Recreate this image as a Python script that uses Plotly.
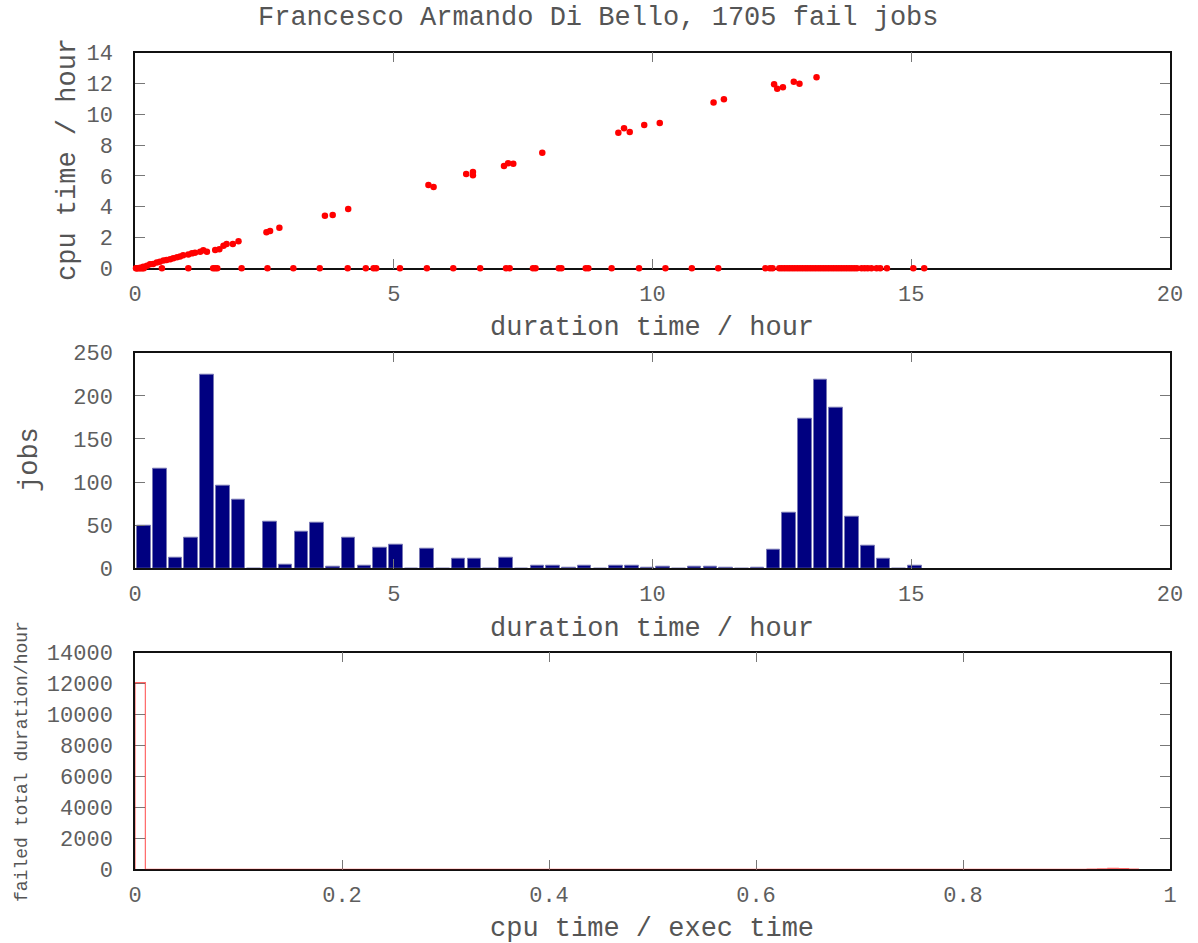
import numpy as np
import plotly.graph_objects as go

W, H = 1198, 943

# ---------------- data: top scatter (duration vs cpu time, hours) ----------------
zero_cpu_duration = [0.02, 0.05, 0.08, 0.11, 0.14, 0.17, 0.52, 1.03, 1.51, 1.55, 1.59,
                     2.06, 2.56, 3.06, 3.57, 4.11, 4.46, 4.61, 4.66, 5.12, 5.64, 6.15,
                     6.67, 7.17, 7.24, 7.69, 7.74, 8.19, 8.24, 8.71, 8.76, 9.21, 9.74,
                     10.25, 10.76, 11.27, 12.18, 12.27, 12.32,
                     12.45, 12.50, 12.55, 12.60, 12.65, 12.70, 12.75, 12.80, 12.85, 12.90,
                     12.95, 13.00, 13.05, 13.10, 13.15, 13.20, 13.25, 13.30, 13.35, 13.40,
                     13.45, 13.50, 13.55, 13.60, 13.65, 13.70, 13.75, 13.80, 13.85, 13.90,
                     13.95, 14.04, 14.10, 14.16, 14.23, 14.33, 14.40, 14.53, 15.04, 15.25]
zero_cpu_cpu = [0, 0, 0, 0, 0, 0, 0, 0, 0, 0, 0,
                0, 0, 0, 0, 0, 0, 0, 0, 0, 0, 0,
                0, 0, 0, 0, 0, 0, 0, 0, 0, 0, 0,
                0, 0, 0, 0, 0, 0,
                0, 0, 0, 0, 0, 0, 0, 0, 0, 0,
                0, 0, 0, 0, 0, 0, 0, 0, 0, 0,
                0, 0, 0, 0, 0, 0, 0, 0, 0, 0,
                0, 0, 0, 0, 0, 0, 0, 0, 0, 0]

busy_duration = [0.03, 0.10, 0.16, 0.23, 0.29, 0.35, 0.42, 0.48, 0.55, 0.61, 0.68, 0.74,
                 0.81, 0.87, 0.93, 1.03, 1.10, 1.16, 1.26, 1.32, 1.39, 1.55, 1.63, 1.71,
                 1.77, 1.89, 2.00, 2.54, 2.61, 2.79, 3.67, 3.82, 4.12, 5.67, 5.77, 6.40,
                 6.53, 6.53, 7.13, 7.21, 7.31, 7.87, 9.34, 9.45, 9.56, 9.84, 10.14, 11.18,
                 11.38, 12.35, 12.41, 12.52, 12.73, 12.84, 13.17]
busy_cpu = [0.00, 0.04, 0.10, 0.17, 0.26, 0.28, 0.37, 0.43, 0.50, 0.54, 0.58, 0.65,
            0.71, 0.76, 0.84, 0.89, 0.97, 1.01, 1.08, 1.17, 1.08, 1.19, 1.23, 1.47,
            1.58, 1.58, 1.75, 2.34, 2.42, 2.64, 3.42, 3.46, 3.85, 5.41, 5.28, 6.12,
            6.25, 6.05, 6.64, 6.82, 6.79, 7.51, 8.81, 9.09, 8.85, 9.31, 9.44, 10.76,
            10.97, 11.95, 11.66, 11.75, 12.12, 11.99, 12.40]

# ---------------- data: middle histogram (jobs per duration bin) ----------------
duration_bin_width = 0.304   # hours
duration_bin_first = 0.175   # centre of first bin, hours
jobs_per_bin = [49, 115, 12, 35, 225, 96, 80, 0, 54, 4, 43, 53, 2, 36, 3, 24, 27, 0, 23, 0,
                11, 11, 0, 12, 0, 3, 3, 1, 3, 0, 3, 3, 1, 2, 0, 2, 2, 1, 0, 1,
                22, 65, 173, 219, 186, 60, 26, 11, 0, 3]

# ---------------- data: bottom histogram (failed total duration per cpu/exec bin) ----------------
ratio_bin_width = 0.01
failed_duration_per_ratio_bin = [
    12060,
    0, 0, 0, 0, 0, 0, 0, 0, 0, 0, 0, 0, 0, 0, 0, 0, 0, 0, 0, 0,
    0, 0, 0, 0, 0, 0, 0, 0, 0, 0, 0, 0, 0, 0, 0, 0, 0, 0, 0, 0,
    0, 0, 0, 0, 0, 0, 0, 0, 0, 0, 0, 0, 0, 0, 0, 0, 0, 0, 0, 0,
    0, 0, 0, 0, 0, 0, 0, 0, 0, 0, 0, 0, 0, 0, 0, 0, 0, 0, 0, 0,
    0, 0, 0, 0, 0, 0, 0, 0, 0, 0, 0, 15, 30, 60, 40, 10]

# ---------------- derived positions ----------------
bin_centres = duration_bin_first + duration_bin_width * np.arange(len(jobs_per_bin))
ratio_edges = ratio_bin_width * np.arange(len(failed_duration_per_ratio_bin) + 1)
step_y = [0] + failed_duration_per_ratio_bin


def px_x(p):
    return p / W


def px_y(p):
    return 1 - p / H


X_DOM = [px_x(135), px_x(1170)]
DOMS = {
    1: [px_y(268.3), px_y(52.7)],
    2: [px_y(568.3), px_y(352.7)],
    3: [px_y(869.3), px_y(652.7)],
}

MONO = "Liberation Mono, Courier New, monospace"
TICKFONT = dict(family=MONO, size=22, color="#5e5e5e")
TITLEFONT = dict(family=MONO, size=27, color="#555555")

fig = go.Figure()

fig.add_trace(go.Scatter(x=zero_cpu_duration, y=zero_cpu_cpu, mode="markers",
                         marker=dict(color="#ff0000", size=6.5), cliponaxis=False,
                         xaxis="x", yaxis="y", showlegend=False))
fig.add_trace(go.Scatter(x=busy_duration, y=busy_cpu, mode="markers",
                         marker=dict(color="#ff0000", size=6.5), cliponaxis=False,
                         xaxis="x", yaxis="y", showlegend=False))

fig.add_trace(go.Bar(x=bin_centres, y=jobs_per_bin, width=0.262,
                     marker=dict(color="#000080", line=dict(color="rgba(120,120,180,0.9)", width=1)),
                     xaxis="x2", yaxis="y2", showlegend=False))

fig.add_trace(go.Scatter(x=ratio_edges, y=step_y, mode="lines", line_shape="vh",
                         line=dict(color="rgba(255,0,0,0.6)", width=1.2),
                         xaxis="x3", yaxis="y3", showlegend=False))


def axis(domain, rng, dtick, anchor, layer="above traces"):
    return dict(domain=domain, range=rng, dtick=dtick, tick0=0, anchor=anchor,
                automargin=False,
                showgrid=False, zeroline=False, showline=True, linecolor="#111111",
                linewidth=1.5, mirror="allticks", ticks="inside", ticklen=10,
                tickcolor="#777777", tickwidth=1, tickfont=TICKFONT, layer=layer,
                fixedrange=True, tickformat="d")


xa1 = axis(X_DOM, [0, 20], 5, "y", "below traces")
ya1 = axis(DOMS[1], [0, 14], 2, "x", "below traces")
xa2 = axis(X_DOM, [0, 20], 5, "y2")
ya2 = axis(DOMS[2], [0, 250], 50, "x2")
xa3 = axis(X_DOM, [0, 1], 0.2, "y3", "below traces")
xa3["tickformat"] = ""
ya3 = axis(DOMS[3], [0, 14000], 2000, "x3", "below traces")
for xa in (xa1, xa2, xa3):
    xa["ticklabelstandoff"] = 5
for ya in (ya1, ya2, ya3):
    ya["ticklabelstandoff"] = 16

annotations = [
    dict(text="Francesco Armando Di Bello, 1705 fail jobs", x=px_x(598), y=px_y(18),
         font=TITLEFONT),
    dict(text="duration time / hour", x=px_x(652), y=px_y(328), font=TITLEFONT),
    dict(text="duration time / hour", x=px_x(652), y=px_y(629), font=TITLEFONT),
    dict(text="cpu time / exec time", x=px_x(652), y=px_y(929), font=TITLEFONT),
    dict(text="cpu time / hour", x=px_x(68), y=px_y(160), font=TITLEFONT, textangle=-90),
    dict(text="jobs", x=px_x(30), y=px_y(460), font=TITLEFONT, textangle=-90),
    dict(text="failed total duration/hour", x=px_x(22), y=px_y(762),
         font=dict(family=MONO, size=18, color="#555555"), textangle=-90),
]
for a in annotations:
    a.update(xref="paper", yref="paper", showarrow=False, xanchor="center", yanchor="middle")

fig.update_layout(
    width=W, height=H, margin=dict(l=0, r=0, t=0, b=0, autoexpand=False),
    paper_bgcolor="white", plot_bgcolor="white",
    xaxis=xa1, yaxis=ya1, xaxis2=xa2, yaxis2=ya2, xaxis3=xa3, yaxis3=ya3,
    annotations=annotations, bargap=0,
)

fig.write_html("out.html")
